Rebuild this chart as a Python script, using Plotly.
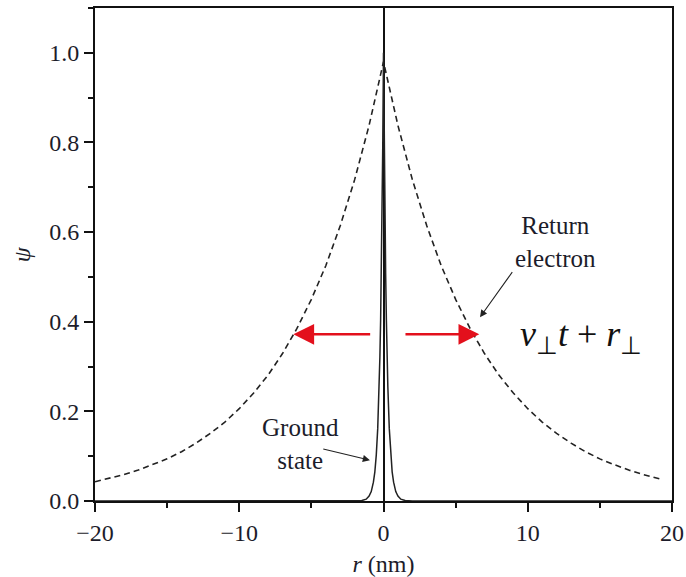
import plotly.graph_objects as go

# Return-electron wave packet (dashed), sampled along r in nm
r_return = [-20, -19, -18, -17, -16, -15, -14, -13, -12, -11, -10, -9, -8, -7, -6, -5, -4, -3, -2, -1,
            0, 1, 2, 3, 4, 5, 6, 7, 8, 9, 10, 11, 12, 13, 14, 15, 16, 17, 18, 19, 19.3]
psi_return = [0.043, 0.051, 0.059, 0.069, 0.081, 0.094, 0.110, 0.129, 0.151, 0.176, 0.206, 0.241,
              0.281, 0.329, 0.385, 0.450, 0.525, 0.614, 0.717, 0.838,
              0.980, 0.838, 0.717, 0.614, 0.525, 0.450, 0.385, 0.329, 0.281, 0.241, 0.206, 0.176,
              0.151, 0.129, 0.110, 0.094, 0.081, 0.069, 0.059, 0.051, 0.048]

# Ground-state wave function (solid), narrow cusp at the origin
r_ground = [-20, -3, -2, -1.5, -1.2, -1.0, -0.85, -0.7, -0.6, -0.5, -0.4, -0.3, -0.25, -0.2, -0.15, -0.1, -0.05,
            0, 0.05, 0.1, 0.15, 0.2, 0.25, 0.3, 0.4, 0.5, 0.6, 0.7, 0.85, 1.0, 1.2, 1.5, 2, 3, 20]
psi_ground = [0.0, 0.0, 0.0, 0.001, 0.004, 0.011, 0.021, 0.042, 0.065, 0.103, 0.162, 0.256, 0.321, 0.403,
              0.506, 0.635, 0.797,
              1.0, 0.797, 0.635, 0.506, 0.403, 0.321, 0.256, 0.162, 0.103, 0.065, 0.042, 0.021, 0.011,
              0.004, 0.001, 0.0, 0.0, 0.0]

# Red spreading arrows: (tail r, head r) at a common height
spread_y = 0.372
spread_left = (-0.82, -6.25)
spread_right = (1.42, 6.64)

x_ticks = [-20, -10, 0, 10, 20]
y_ticks = [0.0, 0.2, 0.4, 0.6, 0.8, 1.0]

SERIF = "Liberation Serif"
INK = "#1c1c2a"
FS = 24

fig = go.Figure()
fig.add_trace(go.Scatter(x=r_return, y=psi_return, mode="lines",
                         line=dict(color="#222", width=1.6, dash="6px,4px"),
                         hoverinfo="skip", showlegend=False))
fig.add_trace(go.Scatter(x=r_ground, y=psi_ground, mode="lines",
                         line=dict(color="#222", width=1.5),
                         hoverinfo="skip", showlegend=False))

annotations = []
for tail, head in (spread_left, spread_right):
    annotations.append(dict(x=head, y=spread_y, ax=tail, ay=spread_y, xref="x", yref="y",
                            axref="x", ayref="y", text="", showarrow=True,
                            arrowhead=2, arrowsize=1.6, arrowwidth=2.6, arrowcolor="#e3101c"))

# Label pointers
annotations.append(dict(x=6.69, y=0.410, ax=9.0, ay=0.514, xref="x", yref="y", axref="x", ayref="y",
                        text="", showarrow=True, arrowhead=2, arrowsize=1.3, arrowwidth=1.1,
                        arrowcolor="#222"))
annotations.append(dict(x=-0.94, y=0.091, ax=-4.28, ay=0.117, xref="x", yref="y", axref="x", ayref="y",
                        text="", showarrow=True, arrowhead=2, arrowsize=1.3, arrowwidth=1.1,
                        arrowcolor="#222"))

annotations.append(dict(x=11.9, y=0.577, xref="x", yref="y", text="Return<br>electron",
                        showarrow=False, font=dict(family=SERIF, size=25, color=INK)))
annotations.append(dict(x=-5.77, y=0.127, xref="x", yref="y", text="Ground<br>state",
                        showarrow=False, font=dict(family=SERIF, size=25, color=INK)))
annotations.append(dict(x=13.7, y=0.368, xref="x", yref="y",
                        text="<i>v</i><sub>⊥</sub><i>t</i> + <i>r</i><sub>⊥</sub>",
                        showarrow=False, font=dict(family=SERIF, size=36, color="#111")))

# y-axis title placed beside the tick labels
annotations.append(dict(x=-0.127, y=0.5, xref="paper", yref="paper", text="<i>ψ</i>",
                        textangle=-90, showarrow=False, xanchor="center", yanchor="middle",
                        font=dict(family=SERIF, size=FS, color=INK)))

fig.update_layout(
    width=686, height=577,
    margin=dict(l=95, r=14, t=8, b=76),
    paper_bgcolor="white", plot_bgcolor="white",
    font=dict(family=SERIF, size=FS, color=INK),
    annotations=annotations,
    xaxis=dict(range=[-20, 20], tickvals=x_ticks, ticks="outside", ticklen=9, tickwidth=2,
               tickcolor="#111", showline=True, linecolor="#111", linewidth=2, mirror=True,
               showgrid=False, zeroline=True, zerolinecolor="#111", zerolinewidth=2,
               automargin=False,
               minor=dict(dtick=5, ticks="outside", ticklen=5, tickwidth=2, tickcolor="#111"),
               title=dict(text="<i>r</i> (nm)", standoff=14, font=dict(family=SERIF, size=FS)),
               tickfont=dict(family=SERIF, size=FS)),
    yaxis=dict(range=[0, 1.1], tickvals=y_ticks, tickformat=".1f", ticks="outside", ticklen=9,
               tickwidth=2, tickcolor="#111", showline=True, linecolor="#111", linewidth=2,
               mirror=True, showgrid=False, zeroline=False, automargin=False,
               minor=dict(dtick=0.1, ticks="outside", ticklen=5, tickwidth=2, tickcolor="#111"),
               tickfont=dict(family=SERIF, size=FS)),
)

fig.write_html("out.html")
